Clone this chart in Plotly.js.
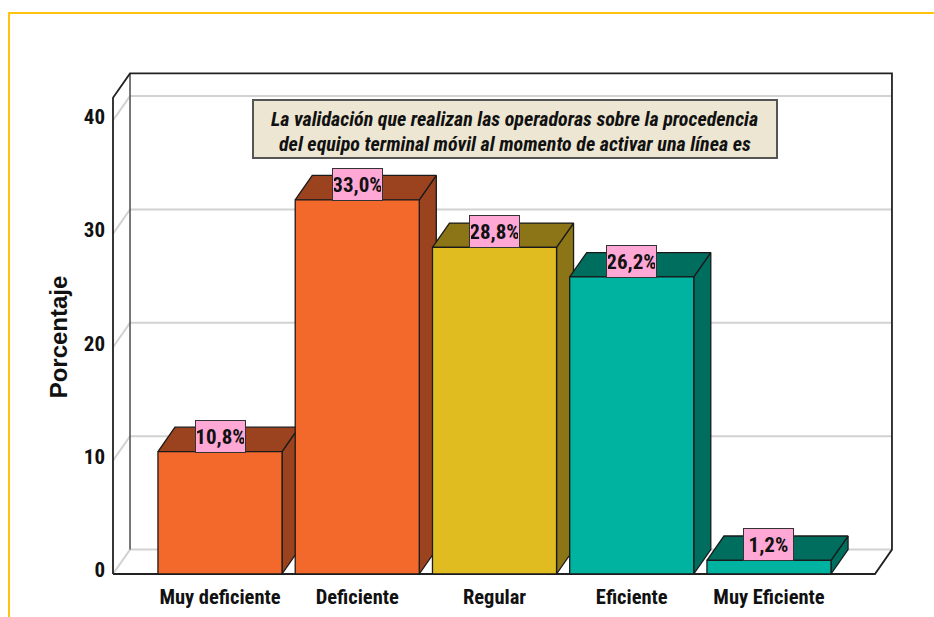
<!DOCTYPE html>
<html><head><meta charset="utf-8">
<script src="https://cdn.plot.ly/plotly-3.0.1.min.js"></script>
<style>html,body{margin:0;padding:0;background:#fff}#chart{width:934px;height:617px}</style>
</head><body><div id="chart"></div>
<script>
// ---- data ----
const categories = ['Muy deficiente', 'Deficiente', 'Regular', 'Eficiente', 'Muy Eficiente'];
const percentages = [10.8, 33.0, 28.8, 26.2, 1.2];
const yTickValues = [0, 10, 20, 30, 40];
const yTickLabels = ['0', '10', '20', '30', '40'];
const chartTitleLines = ['La validación que realizan las operadoras sobre la procedencia',
                         'del equipo terminal móvil al momento de activar una línea es'];
const yAxisTitle = 'Porcentaje';

// ---- styles ----
const frontColors = ['#F2692B', '#F2692B', '#E0BC21', '#00B3A0', '#00B3A0'];
const darkColors  = ['#9A431E', '#9A431E', '#8B7516', '#006E5F', '#006E5F'];
const NARROW = '"Roboto Condensed","Open Sans Condensed","DejaVu Sans Condensed",sans-serif';

// geometry (axis units)
const XRANGE = [-0.8743, 4.991];
const YRANGE = [-0.970, 45.33];
const XL = -0.7796, XR = 4.896;   // frame left (front) / right (back)
const WALL = 42;                  // frame height (front)
const DX = 0.124, DY = 2.15;      // depth offset
const HW = 0.452;                 // half bar width

const traces = [];
function line(xs, ys, color, width) {
  traces.push({type: 'scatter', mode: 'lines', x: xs, y: ys, hoverinfo: 'skip',
    line: {color: color, width: width}, showlegend: false});
}
// gridlines on left wall + back wall
const gx = [], gy = [];
yTickValues.forEach(v => { gx.push(XL, XL + DX, XR, null); gy.push(v, v + DY, v + DY, null); });
line(gx, gy, '#D2D2D2', 2);
// frame
line([XL + DX, XL + DX], [DY, WALL + DY], '#555', 1.6);
line([XL, XL, XL + DX, XR, XR, XR - DX, XL], [0, WALL, WALL + DY, WALL + DY, DY, 0, 0], '#222', 1.8);

function poly(xs, ys, fill) {
  traces.push({type: 'scatter', mode: 'lines', x: xs, y: ys, fill: 'toself', fillcolor: fill,
    hoverinfo: 'skip', line: {color: '#1a1a1a', width: 1.3}, showlegend: false});
}
percentages.forEach((v, i) => {
  poly([i + HW, i + HW + DX, i + HW + DX, i + HW, i + HW], [0, DY, v + DY, v, 0], darkColors[i]);
});
percentages.forEach((v, i) => {
  poly([i - HW, i + HW, i + HW + DX, i - HW + DX, i - HW], [v, v, v + DY, v + DY, v], darkColors[i]);
});
percentages.forEach((v, i) => {
  poly([i - HW, i + HW, i + HW, i - HW, i - HW], [0, 0, v, v, 0], frontColors[i]);
});

const annotations = percentages.map((v, i) => ({
  x: i, y: v, xref: 'x', yref: 'y', xanchor: 'center', yanchor: 'bottom', showarrow: false,
  text: v.toFixed(1).replace('.', ',') + '%',
  font: {family: NARROW, size: 21, color: '#111', weight: 'bold'},
  bgcolor: '#FFA8D6', bordercolor: '#333', borderwidth: 1, borderpad: 1,
  width: 47, height: 29, yshift: -1
}));
// title box + its two lines
annotations.push({
  xref: 'paper', yref: 'paper', x: 0.5155, y: 0.8695, xanchor: 'center', yanchor: 'middle',
  showarrow: false, text: ' ',
  bgcolor: '#EDE6D2', bordercolor: '#555', borderwidth: 2, borderpad: 1,
  width: 520, height: 54
});
const titleY = [0.8876, 0.8400];
chartTitleLines.forEach((t, k) => annotations.push({
  xref: 'paper', yref: 'paper', x: 0.5155, y: titleY[k], xanchor: 'center', yanchor: 'middle',
  showarrow: false, text: t,
  font: {family: NARROW, size: 20, color: '#111', weight: 'bold', style: 'italic'}
}));
annotations.push({
  xref: 'paper', yref: 'paper', x: -0.052, y: 0.472, xanchor: 'center', yanchor: 'middle',
  showarrow: false, text: yAxisTitle, textangle: -90,
  font: {family: '"Liberation Sans",Arial,sans-serif', size: 24, color: '#111', weight: 'bold'}
});

const layout = {
  width: 934, height: 617,
  margin: {l: 100, r: 29, t: 60, b: 32},
  paper_bgcolor: '#fff', plot_bgcolor: 'rgba(0,0,0,0)',
  showlegend: false, hovermode: false,
  xaxis: {range: XRANGE, anchor: 'free', position: 0.02095, showgrid: false, zeroline: false,
    showline: false, ticks: '', tickvals: [0, 1, 2, 3, 4], ticktext: categories,
    tickfont: {family: NARROW, size: 20.5, color: '#111', weight: 'bold'}, ticklabelstandoff: 8},
  yaxis: {range: YRANGE, anchor: 'free', position: 0.01615, showgrid: false, zeroline: false,
    showline: false, ticks: '', tickvals: yTickValues, ticktext: yTickLabels,
    tickfont: {family: NARROW, size: 21, color: '#111', weight: 'bold'}, ticklabelstandoff: 8,
    ticklabelshift: -4},
  annotations: annotations,
  shapes: [{type: 'rect', xref: 'paper', yref: 'paper', x0: -0.1130, x1: 1.2, y0: -0.2,
    y1: 1.0895, line: {color: '#FFC20E', width: 2}, fillcolor: 'rgba(0,0,0,0)'}]
};
Plotly.newPlot('chart', traces, layout, {displayModeBar: false, staticPlot: true});
</script>
</body></html>
